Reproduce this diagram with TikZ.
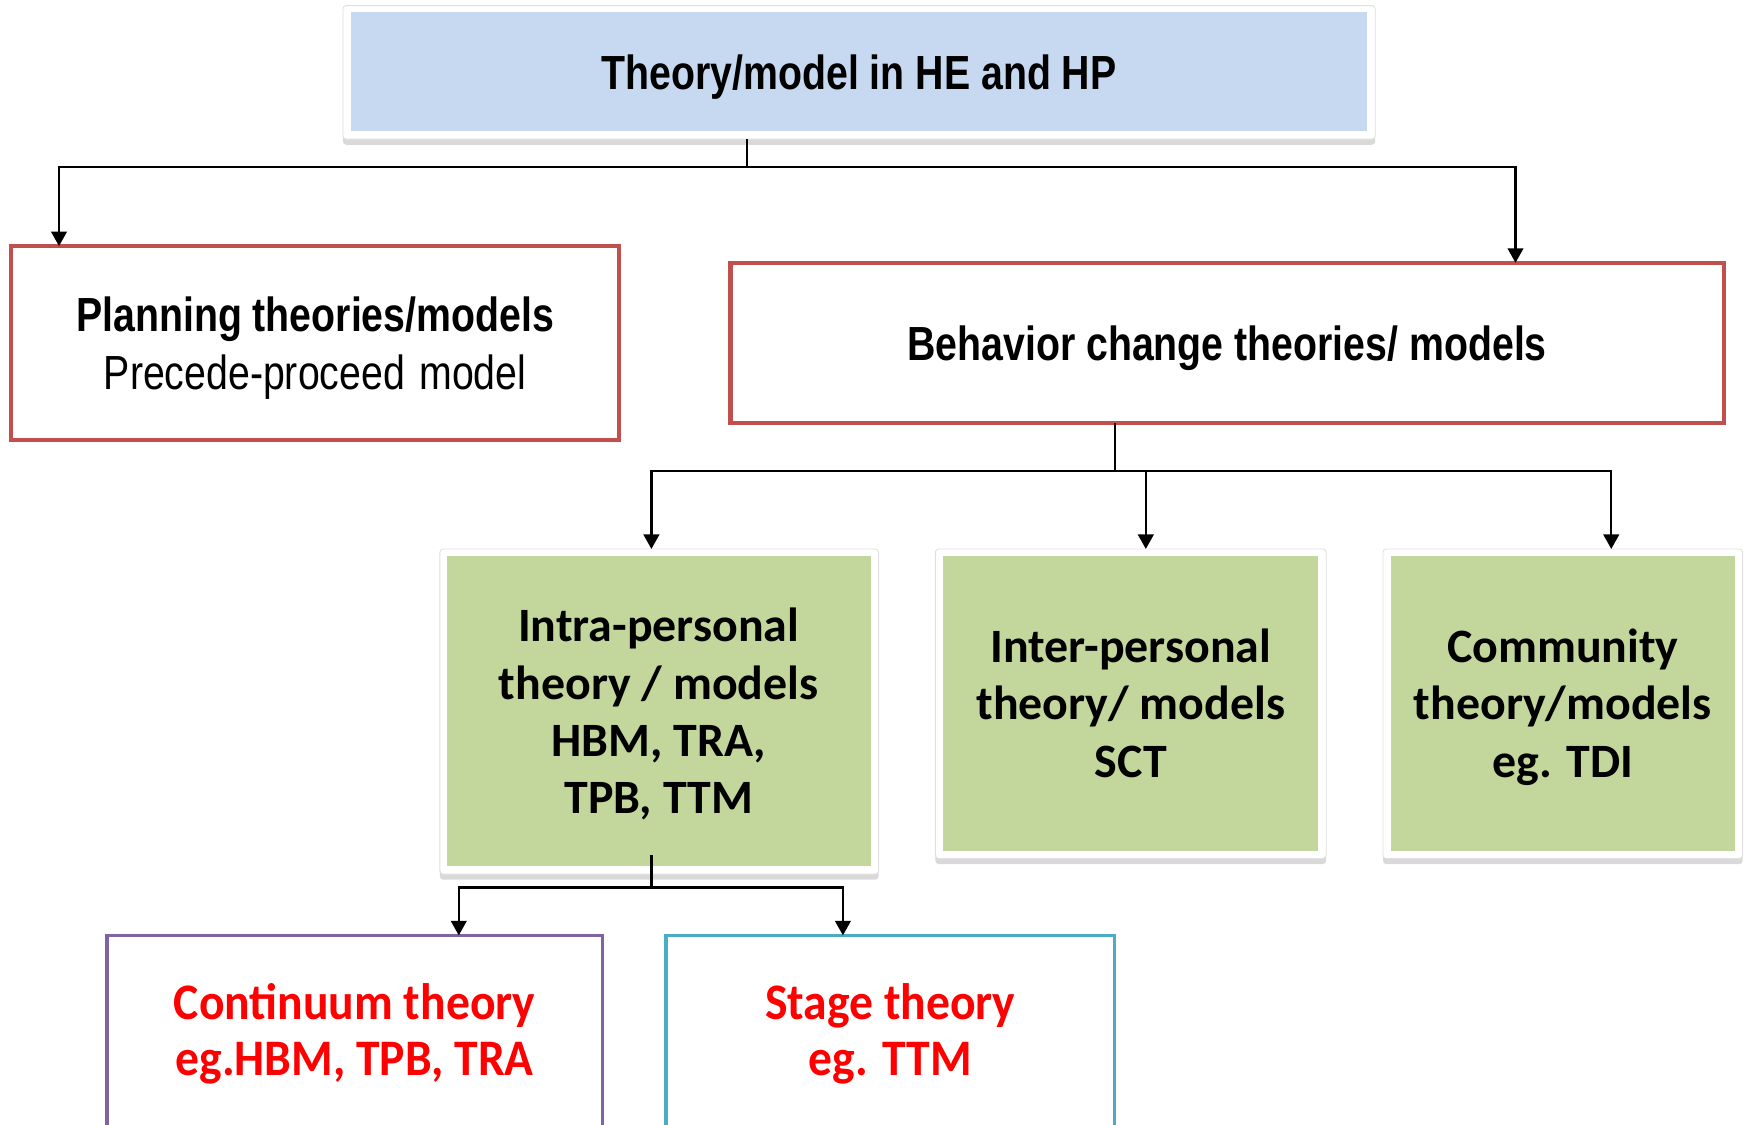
\documentclass[tikz,border=0pt]{standalone}
\usepackage{fontspec}
\setmainfont{Liberation Sans}
\newfontfamily\arialn[FakeStretch=0.82]{Liberation Sans}
\newfontfamily\calib{Carlito}
\newfontfamily\calibn[FakeStretch=0.93]{Carlito}
\usetikzlibrary{arrows.meta,shadows}

\definecolor{hdrblue}{HTML}{C6D9F1}
\definecolor{leafgreen}{HTML}{C3D69B}
\definecolor{boxred}{HTML}{C0504D}
\definecolor{boxpurple}{HTML}{8064A2}
\definecolor{boxcyan}{HTML}{4BACC6}
\definecolor{txtred}{HTML}{FF0000}

\begin{document}
\begin{tikzpicture}[x=0.5pt,y=-0.5pt,
  every node/.style={inner sep=0pt, outer sep=0pt},
  sz/.style 2 args={minimum width=#1*0.5pt, minimum height=#2*0.5pt},
  frame/.style={fill=white, draw=black!12, line width=0.4pt, rounded corners=1.5pt,
    drop shadow={shadow xshift=0pt, shadow yshift=-2.5pt, opacity=0.3}},
  narrowtxt/.style={font=\arialn\fontsize{21.5}{26}\selectfont, align=center, text depth=0pt},
  redbox/.style={draw=boxred, line width=2pt, fill=white, narrowtxt},
  greenfill/.style={fill=leafgreen, align=center, text depth=0pt,
    font=\calib\bfseries\fontsize{21.5}{25.8}\selectfont},
  leafbox/.style={line width=1.6pt, fill=white, align=center, text=txtred,
    font=\calibn\bfseries\fontsize{23}{25.5}\selectfont},
  conn/.style={line width=1pt, black},
  arrow/.style={conn, -{Triangle[length=6.5pt,width=7pt]}}
]
\clip (0,0) rectangle (1568,1010);

% top level
\node[frame, sz={927}{120}] (topframe) at (771.5,65) {};
\node[fill=hdrblue, sz={913}{107}, text depth=0pt,
  font=\arialn\bfseries\fontsize{21.5}{26}\selectfont]
  (top) at (771.5,64.5) {Theory/model in HE and HP};

% second level
\node[redbox, sz={546}{174}] (plan) at (283,308)
  {{\bfseries Planning theories/models}\\Precede-proceed\hspace{0.3em}model};
\node[redbox, sz={892}{144}] (behav) at (1102,308)
  {\bfseries Behavior change theories/ models};

% behaviour change families
\node[frame, sz={394}{292}] (intraframe) at (592,639) {};
\node[greenfill, sz={381}{279}] (intra) at (591.5,638.5)
  {Intra-personal\\theory / models\\HBM, TRA,\\TPB, TTM};
\node[frame, sz={351}{278}] (interframe) at (1015.5,632) {};
\node[greenfill, sz={337}{265}] (inter) at (1015.5,631.5)
  {Inter-personal\\theory/ models\\SCT};
\node[frame, sz={323}{278}] (commframe) at (1403.5,632) {};
\node[greenfill, sz={309}{265}] (comm) at (1403.5,631.5)
  {Community\\theory/models\\eg. TDI};

% intra-personal subtypes
\node[leafbox, draw=boxpurple, sz={445}{177}] (cont) at (318.5,928.5)
  {Continuum theory\\eg.HBM, TPB, TRA};
\node[leafbox, draw=boxcyan, sz={403}{177}] (stage) at (799.5,928.5)
  {Stage theory\\eg. TTM};

% junction points
\coordinate (j1) at (671,150);
\coordinate (jl) at (53,150);
\coordinate (jr) at (1361,150);
\coordinate (j2) at (1001,423);
\coordinate (k1) at (585,423);
\coordinate (k2) at (1029,423);
\coordinate (k3) at (1447,423);
\coordinate (s3) at (585,768);
\coordinate (j3) at (585,797);
\coordinate (m1) at (412,797);
\coordinate (m2) at (757,797);

% connectors
\draw[conn] (topframe.south -| j1) -- (j1);
\draw[arrow] (j1) -| (plan.north -| jl);
\draw[arrow] (j1) -| (behav.north -| jr);

\draw[conn] (behav.south -| j2) -- (j2);
\draw[arrow] (j2) -| (intraframe.north -| k1);
\draw[arrow] (j2) -| (interframe.north -| k2);
\draw[arrow] (j2) -| (commframe.north -| k3);

\draw[conn] (s3) -- (j3);
\draw[arrow] (j3) -| (cont.north -| m1);
\draw[arrow] (j3) -| (stage.north -| m2);
\end{tikzpicture}
\end{document}
